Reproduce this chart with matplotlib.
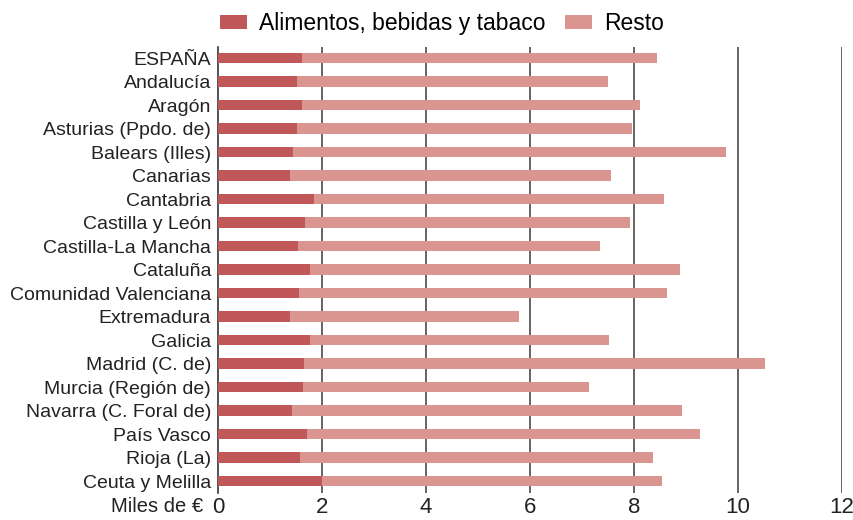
import matplotlib.pyplot as plt
import numpy as np

plt.rcParams['font.family'] = ['Liberation Sans', 'DejaVu Sans']

regions = ['ESPAÑA', 'Andalucía', 'Aragón', 'Asturias (Ppdo. de)', 'Balears (Illes)',
           'Canarias', 'Cantabria', 'Castilla y León', 'Castilla-La Mancha', 'Cataluña',
           'Comunidad Valenciana', 'Extremadura', 'Galicia', 'Madrid (C. de)',
           'Murcia (Región de)', 'Navarra (C. Foral de)', 'País Vasco', 'Rioja (La)',
           'Ceuta y Melilla']
# miles de euros
alimentos = [1.62, 1.51, 1.62, 1.51, 1.45, 1.39, 1.85, 1.68, 1.54, 1.76,
             1.56, 1.39, 1.77, 1.66, 1.64, 1.42, 1.72, 1.58, 1.99]
total = [8.44, 7.50, 8.12, 7.96, 9.77, 7.56, 8.57, 7.92, 7.35, 8.89,
         8.64, 5.78, 7.51, 10.51, 7.14, 8.92, 9.26, 8.37, 8.53]
resto = [t - a for t, a in zip(total, alimentos)]
xticks = [0, 2, 4, 6, 8, 10, 12]

c_alim = '#C0585A'
c_resto = '#DA9591'

fig = plt.figure(figsize=(8.54, 5.2), dpi=100)
ax = fig.add_axes([0.2553, 0.0519, 0.7307, 0.8577])

y = np.arange(len(regions))
ax.barh(y, alimentos, height=0.43, color=c_alim, label='Alimentos, bebidas y tabaco', zorder=3)
ax.barh(y, resto, left=alimentos, height=0.43, color=c_resto, label='Resto', zorder=3)

ax.set_ylim(18.51, -0.47)
ax.set_xlim(0, 12)
ax.set_yticks(y)
ax.set_yticklabels(regions, fontsize=14, color='#222222')
ax.set_xticks(xticks)
ax.set_xticklabels([str(t) for t in xticks], fontsize=16, color='#222222')
ax.tick_params(axis='both', length=0)
ax.tick_params(axis='y', pad=5)
ax.tick_params(axis='x', pad=3)

for t in xticks[1:]:
    ax.axvline(t, color='#3a3a3a', lw=1.1, zorder=1)

for s in ['top', 'right', 'bottom']:
    ax.spines[s].set_visible(False)
ax.spines['left'].set_color('#222222')
ax.spines['left'].set_linewidth(1.1)

fig.text(0.238, 0.025, 'Miles de €', fontsize=14.5, ha='right', va='center', color='#222222')

ax.legend(loc='lower left', bbox_to_anchor=(-0.021, 0.993), ncol=2, frameon=False,
          fontsize=16.5, handlelength=1.2, handleheight=0.6, columnspacing=0.85,
          handletextpad=0.5, borderaxespad=0.25)

fig.savefig('out.png', dpi=100)
